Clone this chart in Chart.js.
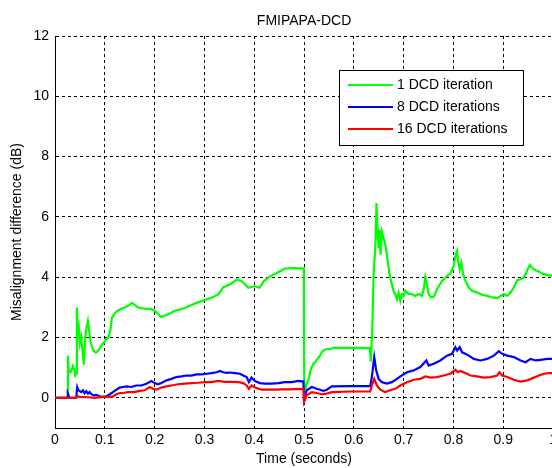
<!DOCTYPE html>
<html>
<head>
<meta charset="utf-8">
<script src="https://cdn.jsdelivr.net/npm/chart.js@4.4.1/dist/chart.umd.min.js"></script>
<style>
  html, body { margin: 0; padding: 0; background: #fff; overflow: hidden; }
  #chart { display: block; }
</style>
</head>
<body>
<canvas id="chart" width="561" height="468"></canvas>
<script>
// 標題與軸
const chartTitle = 'FMIPAPA-DCD';
const xTitle = 'Time (seconds)';
const yTitle = 'Misalignment difference (dB)';
const xTicks = [0, 0.1, 0.2, 0.3, 0.4, 0.5, 0.6, 0.7, 0.8, 0.9, 1];
const yTicks = [0, 2, 4, 6, 8, 10, 12];
const seriesNames = ['1 DCD iteration', '8 DCD iterations', '16 DCD iterations'];
const seriesColors = ['#00ff00', '#0000ff', '#ff0000'];

// 1 DCD iteration
const t1 = [0, 0.0255, 0.026, 0.0275, 0.031, 0.034, 0.036, 0.039, 0.0406, 0.043, 0.0439, 0.046, 0.048, 0.050, 0.0527,
  0.056, 0.058, 0.0607, 0.0634, 0.066, 0.0687, 0.0714, 0.0741, 0.0781, 0.0822, 0.0862, 0.0915, 0.0962, 0.0996, 0.103,
  0.1076, 0.1117, 0.1143, 0.1197, 0.1264, 0.1331, 0.1398, 0.1465, 0.1546, 0.16, 0.1667, 0.1747, 0.1834, 0.1922, 0.2002,
  0.2069, 0.2136, 0.2203, 0.2304, 0.2404, 0.2505, 0.2606, 0.274, 0.291, 0.314, 0.328, 0.338, 0.351, 0.365, 0.375,
  0.388, 0.401, 0.411, 0.419, 0.432, 0.445, 0.462, 0.478, 0.4995, 0.5005, 0.502, 0.5054, 0.5087, 0.5121, 0.5154,
  0.5188, 0.5221, 0.5255, 0.5289, 0.5322, 0.5356, 0.539, 0.5456, 0.5523, 0.559, 0.6054, 0.632, 0.634, 0.637, 0.6395,
  0.643, 0.6455, 0.6476, 0.6496, 0.6516, 0.6536, 0.6563, 0.6596, 0.663, 0.6663, 0.6697, 0.673, 0.6764, 0.6797, 0.6831,
  0.6865, 0.6898, 0.6932, 0.6965, 0.6999, 0.7032, 0.71, 0.7166, 0.7233, 0.73, 0.7368, 0.7401, 0.7435, 0.7468, 0.7502,
  0.7549, 0.7603, 0.7669, 0.777, 0.787, 0.7937, 0.8004, 0.8038, 0.8072, 0.8092, 0.8125, 0.8159, 0.8193, 0.8239, 0.8307,
  0.8374, 0.8474, 0.8575, 0.8675, 0.8776, 0.8877, 0.8944, 0.9011, 0.9078, 0.9145, 0.9212, 0.928, 0.9346, 0.9413, 0.9481,
  0.9534, 0.9581, 0.9648, 0.9715, 0.9782, 0.9883, 1.0];
const v1 = [0, 0, 1.4, 0.9, 0.85, 0.95, 1.05, 0.9, 0.74, 0.8, 3.0, 2.1, 2.3, 1.8, 2.0,
  1.45, 1.1, 2.0, 2.35, 2.55, 2.2, 1.85, 1.7, 1.55, 1.5, 1.55, 1.68, 1.8, 1.85, 1.95,
  2.0, 2.3, 2.65, 2.8, 2.9, 2.95, 3.0, 3.05, 3.15, 3.08, 3.0, 2.97, 2.95, 2.95, 2.88,
  2.78, 2.68, 2.72, 2.8, 2.88, 2.93, 2.98, 3.08, 3.19, 3.32, 3.43, 3.67, 3.76, 3.92, 3.87,
  3.65, 3.7, 3.65, 3.87, 4.03, 4.14, 4.29, 4.3, 4.29, 0.05, 0.25, 0.47, 0.58, 0.85, 1.02,
  1.13, 1.18, 1.26, 1.33, 1.4, 1.51, 1.57, 1.62, 1.62, 1.66, 1.66, 1.65, 1.2, 2.3, 4.0,
  5.0, 6.46, 5.58, 4.97, 5.58, 4.75, 5.5, 5.3, 5.09, 4.75, 4.32, 3.99, 3.77, 3.55, 3.44,
  3.27, 3.49, 3.22, 3.44, 3.38, 3.55, 3.44, 3.44, 3.38, 3.44, 3.38, 3.6, 4.01, 3.77, 3.44,
  3.33, 3.35, 3.6, 3.88, 4.04, 4.12, 4.37, 4.7, 4.87, 4.54, 4.26, 4.48, 4.1, 3.88, 3.66,
  3.55, 3.49, 3.42, 3.38, 3.33, 3.3, 3.38, 3.44, 3.38, 3.49, 3.66, 3.9, 3.93, 3.99, 4.23,
  4.41, 4.3, 4.23, 4.19, 4.12, 4.08, 4.04];

// 8 DCD iterations
const t8 = [0, 0.0255, 0.0258, 0.0292, 0.0426, 0.0446, 0.0473, 0.0526, 0.056, 0.0594, 0.0627, 0.0661, 0.0694, 0.0728,
  0.0781, 0.0828, 0.0895, 0.0962, 0.103, 0.1097, 0.1164, 0.1231, 0.1298, 0.1365, 0.1432, 0.1533, 0.1633, 0.1734, 0.1834,
  0.1935, 0.2002, 0.2069, 0.2136, 0.2237, 0.2337, 0.2438, 0.2539, 0.2639, 0.274, 0.284, 0.2941, 0.3042, 0.3142, 0.3243,
  0.331, 0.3377, 0.3444, 0.3511, 0.3612, 0.3712, 0.378, 0.3847, 0.3893, 0.3947, 0.4014, 0.4115, 0.4215, 0.4349, 0.4483,
  0.4618, 0.4752, 0.4886, 0.4987, 0.5, 0.5054, 0.5154, 0.5255, 0.5322, 0.5389, 0.5456, 0.5557, 0.5926, 0.6328, 0.6362,
  0.6409, 0.6449, 0.6496, 0.6563, 0.6663, 0.6764, 0.6864, 0.6932, 0.7066, 0.72, 0.7334, 0.7455, 0.7502, 0.7602, 0.7736,
  0.787, 0.7971, 0.8038, 0.8072, 0.8125, 0.8172, 0.8239, 0.8307, 0.8407, 0.8541, 0.8675, 0.881, 0.891, 0.8977, 0.9078,
  0.9212, 0.9346, 0.9447, 0.9548, 0.9648, 0.9749, 0.9883, 1.0];
const v8 = [0, 0, 0.14, 0, 0, 0.36, 0.25, 0.19, 0.25, 0.15, 0.22, 0.14, 0.19, 0.12,
  0.08, 0.1, 0.05, 0.03, 0.05, 0.12, 0.19, 0.27, 0.34, 0.36, 0.38, 0.36, 0.41, 0.41, 0.47,
  0.56, 0.49, 0.45, 0.49, 0.58, 0.63, 0.69, 0.71, 0.74, 0.74, 0.78, 0.78, 0.8, 0.82, 0.85,
  0.89, 0.85, 0.83, 0.84, 0.82, 0.8, 0.74, 0.69, 0.52, 0.67, 0.56, 0.49, 0.47, 0.47, 0.49,
  0.52, 0.52, 0.56, 0.54, -0.06, 0.25, 0.36, 0.3, 0.27, 0.23, 0.27, 0.38, 0.39, 0.39, 0.69,
  1.35, 0.91, 0.63, 0.52, 0.47, 0.52, 0.63, 0.71, 0.85, 0.91, 1.02, 1.24, 1.07, 1.13, 1.24,
  1.4, 1.46, 1.68, 1.57, 1.68, 1.51, 1.46, 1.4, 1.29, 1.24, 1.29, 1.4, 1.55, 1.46, 1.4,
  1.35, 1.24, 1.18, 1.29, 1.24, 1.26, 1.29, 1.29];

// 16 DCD iterations
const t16 = [0, 0.042, 0.045, 0.05, 0.0661, 0.0795, 0.0962, 0.1064, 0.1164, 0.1231, 0.1298, 0.1365, 0.1466, 0.16,
  0.17, 0.18, 0.1901, 0.1968, 0.2035, 0.2136, 0.2237, 0.2337, 0.2472, 0.2606, 0.274, 0.2874, 0.3008, 0.3142, 0.3276,
  0.341, 0.3545, 0.3679, 0.378, 0.3847, 0.3893, 0.3947, 0.4014, 0.4148, 0.4282, 0.4416, 0.455, 0.4685, 0.4819, 0.4987,
  0.5, 0.5054, 0.5154, 0.5255, 0.5356, 0.5456, 0.5557, 0.5926, 0.6328, 0.6362, 0.6409, 0.6462, 0.653, 0.663, 0.673,
  0.6831, 0.6932, 0.7066, 0.72, 0.7334, 0.7435, 0.7535, 0.7669, 0.7803, 0.7937, 0.8038, 0.8085, 0.8139, 0.8239, 0.834,
  0.8474, 0.8608, 0.8742, 0.8877, 0.8924, 0.8977, 0.9078, 0.9212, 0.9346, 0.9481, 0.9615, 0.9715, 0.9816, 0.9916, 1.0];
const v16 = [0, 0, 0.05, 0.03, 0.02, 0, 0.03, 0.03, 0.05, 0.12, 0.16, 0.16, 0.19, 0.19,
  0.23, 0.25, 0.36, 0.3, 0.27, 0.34, 0.38, 0.41, 0.45, 0.47, 0.49, 0.5, 0.52, 0.52, 0.56,
  0.53, 0.53, 0.52, 0.49, 0.41, 0.3, 0.41, 0.34, 0.27, 0.27, 0.27, 0.28, 0.28, 0.29, 0.3,
  -0.14, 0.08, 0.19, 0.16, 0.12, 0.14, 0.19, 0.21, 0.21, 0.41, 0.63, 0.41, 0.27, 0.19, 0.25,
  0.3, 0.41, 0.52, 0.6, 0.63, 0.71, 0.67, 0.69, 0.74, 0.8, 0.93, 0.85, 0.89, 0.82, 0.74,
  0.71, 0.67, 0.69, 0.74, 0.85, 0.74, 0.69, 0.6, 0.54, 0.58, 0.67, 0.74, 0.8, 0.82, 0.82];

const FONT = '"Liberation Sans", Arial, sans-serif';

function pts(ts, vs) {
  return ts.map((t, i) => ({ x: t, y: vs[i] }));
}

// 標題和圖例 (畫在圖內)
const frame = {
  id: 'frame',
  afterDraw(chart) {
    const { ctx, chartArea: a } = chart;
    ctx.save();
    ctx.font = '14px ' + FONT;
    ctx.fillStyle = '#000';
    ctx.textAlign = 'center';
    ctx.textBaseline = 'middle';
    ctx.fillText(chartTitle, (a.left + a.right) / 2, 21);

    // legend box
    const bx = 339, by = 70, bw = 184, bh = 75;
    ctx.fillStyle = '#fff';
    ctx.fillRect(bx, by, bw, bh);
    ctx.strokeStyle = '#000';
    ctx.lineWidth = 1;
    ctx.strokeRect(bx + 0.5, by + 0.5, bw, bh);
    ctx.textAlign = 'left';
    chart.data.datasets.forEach((ds, i) => {
      const y = by + 15 + i * 22;
      ctx.strokeStyle = ds.borderColor;
      ctx.lineWidth = 2;
      ctx.beginPath();
      ctx.moveTo(bx + 9, y);
      ctx.lineTo(bx + 54, y);
      ctx.stroke();
      ctx.fillStyle = '#000';
      ctx.fillText(ds.label, bx + 58, y);
    });
    ctx.restore();
  }
};

const datasets = [
  { data: pts(t1, v1), order: 3 },
  { data: pts(t8, v8), order: 2 },
  { data: pts(t16, v16), order: 1 }
].map((d, i) => Object.assign(d, {
  label: seriesNames[i],
  borderColor: seriesColors[i],
  backgroundColor: seriesColors[i],
  borderWidth: 2.2,
  pointRadius: 0,
  tension: 0,
  fill: false
}));

new Chart(document.getElementById('chart').getContext('2d'), {
  type: 'line',
  data: { datasets: datasets },
  options: {
    responsive: false,
    animation: false,
    devicePixelRatio: 1,
    layout: { padding: { top: 36, left: 0, right: 0, bottom: 0 } },
    plugins: { legend: { display: false }, tooltip: { enabled: false }, title: { display: false } },
    scales: {
      x: {
        type: 'linear',
        min: 0, max: 1,
        afterBuildTicks: s => { s.ticks = xTicks.map(v => ({ value: v })); },
        afterFit: s => { s.height = 40; },
        grid: { color: '#000', drawTicks: false },
        border: { display: true, color: '#000', width: 1, dash: [3, 3] },
        ticks: { color: '#000', padding: 4, maxRotation: 0, font: { family: FONT, size: 14 }, callback: v => String(v) },
        title: { display: true, text: xTitle, color: '#000', padding: { top: 0, bottom: 0 }, font: { family: FONT, size: 14 } }
      },
      y: {
        min: -1, max: 12,
        afterBuildTicks: s => { s.ticks = yTicks.map(v => ({ value: v })); },
        afterFit: s => { s.width = 55; },
        grid: { color: '#000', drawTicks: false },
        border: { display: true, color: '#000', width: 1, dash: [3, 3] },
        ticks: { color: '#000', padding: 6, font: { family: FONT, size: 14 }, callback: v => String(v) },
        title: { display: true, text: yTitle, color: '#000', padding: { top: 9, bottom: 0 }, font: { family: FONT, size: 14 } }
      }
    }
  },
  plugins: [frame]
});
</script>
</body>
</html>
